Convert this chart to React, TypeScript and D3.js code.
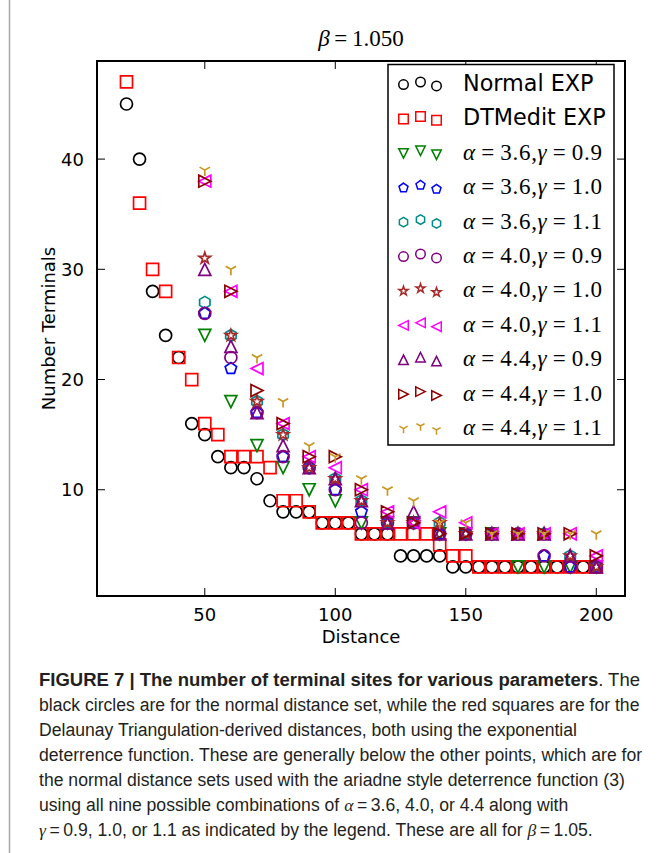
import React from 'react';
import * as d3 from 'd3';

// distances for the two EXP series (every 5)
const distFine = [20, 25, 30, 35, 40, 45, 50, 55, 60, 65, 70, 75, 80, 85, 90, 95, 100, 105, 110, 115, 120, 125, 130, 135, 140, 145, 150, 155, 160, 165, 170, 175, 180, 185, 190, 195, 200];
const normalExp = [45, 40, 28, 24, 22, 16, 15, 13, 12, 12, 11, 9, 8, 8, 8, 7, 7, 7, 6, 6, 6, 4, 4, 4, 4, 3, 3, 3, 3, 3, 3, 3, 3, 3, 3, 3, 3];
const dtmeditExp = [47, 36, 30, 28, 22, 20, 16, 15, 13, 13, 13, 12, 9, 9, 8, 7, 7, 7, 6, 6, 6, 6, 6, 6, 5, 4, 4, 3, 3, 3, 3, 3, 3, 3, 3, 3, 3];

// distances for the ariadne series (every 10)
const distCoarse = [50, 60, 70, 80, 90, 100, 110, 120, 130, 140, 150, 160, 170, 180, 190, 200];
const a36g09 = [24, 18, 14, 12, 10, 9, 7, 7, 7, 6, 6, 6, 3, 3, 3, 3];
const a36g10 = [26, 21, 17, 13, 12, 10, 8, 7, 7, 6, 6, 6, 6, 4, 3, 3];
const a36g11 = [27, 24, 18, 15, 12, 11, 9, 7, 7, 7, 6, 6, 6, 6, 4, 3];
const a40g09 = [26, 22, 17, 13, 12, 10, 7, 7, 7, 6, 6, 6, 6, 4, 3, 3];
const a40g10 = [31, 24, 18, 15, 12, 11, 9, 7, 7, 7, 6, 6, 6, 6, 4, 3];
const a40g11 = [38, 28, 21, 16, 13, 12, 10, 8, 7, 8, 7, 6, 6, 6, 6, 4];
const a44g09 = [30, 23, 17, 14, 12, 11, 9, 7, 8, 6, 6, 6, 6, 6, 4, 3];
const a44g10 = [38, 28, 19, 16, 13, 13, 10, 8, 7, 6, 6, 6, 6, 6, 6, 4];
const a44g11 = [39, 30, 22, 18, 14, 13, 11, 10, 9, 7, 7, 6, 6, 6, 6, 6];

const xTicks = [50, 100, 150, 200];
const yTicks = [10, 20, 30, 40];

const series = [
  { label: 'Normal EXP', x: distFine, y: normalExp, marker: 'circle', color: '#000000' },
  { label: 'DTMedit EXP', x: distFine, y: dtmeditExp, marker: 'square', color: '#ff0000' },
  { a: '3.6', g: '0.9', x: distCoarse, y: a36g09, marker: 'triDown', color: '#008000' },
  { a: '3.6', g: '1.0', x: distCoarse, y: a36g10, marker: 'pentagon', color: '#0000ff' },
  { a: '3.6', g: '1.1', x: distCoarse, y: a36g11, marker: 'hexagon', color: '#008b8b' },
  { a: '4.0', g: '0.9', x: distCoarse, y: a40g09, marker: 'circle', color: '#800080' },
  { a: '4.0', g: '1.0', x: distCoarse, y: a40g10, marker: 'star', color: '#a52a2a' },
  { a: '4.0', g: '1.1', x: distCoarse, y: a40g11, marker: 'triLeft', color: '#ff00ff' },
  { a: '4.4', g: '0.9', x: distCoarse, y: a44g09, marker: 'triUp', color: '#800080' },
  { a: '4.4', g: '1.0', x: distCoarse, y: a44g10, marker: 'triRight', color: '#8b0000' },
  { a: '4.4', g: '1.1', x: distCoarse, y: a44g11, marker: 'triY', color: '#c9961f' },
];

const captionLines = [
  'black circles are for the normal distance set, while the red squares are for the',
  'Delaunay Triangulation-derived distances, both using the exponential',
  'deterrence function. These are generally below the other points, which are for',
  'the normal distance sets used with the ariadne style deterrence function (3)',
];

function poly(pts: number[][]) {
  return 'M' + pts.map(p => p[0].toFixed(2) + ',' + p[1].toFixed(2)).join('L') + 'Z';
}

function markerPath(kind: string, size: number) {
  const h = size / 2;
  switch (kind) {
    case 'circle':
      return `M${h},0A${h},${h} 0 1 1 ${-h},0A${h},${h} 0 1 1 ${h},0Z`;
    case 'square':
      return poly([[-h, -h], [h, -h], [h, h], [-h, h]]);
    case 'triDown':
      return poly([[0, h], [-h, -h], [h, -h]]);
    case 'triUp':
      return poly([[0, -h], [-h, h], [h, h]]);
    case 'triLeft':
      return poly([[-h, 0], [h, -h], [h, h]]);
    case 'triRight':
      return poly([[h, 0], [-h, -h], [-h, h]]);
    case 'pentagon':
      return poly(d3.range(5).map(k => {
        const t = -Math.PI / 2 + k * 2 * Math.PI / 5;
        return [h * Math.cos(t), h * Math.sin(t)];
      }));
    case 'hexagon':
      return poly(d3.range(6).map(k => {
        const t = -Math.PI / 2 + k * Math.PI / 3;
        return [h * Math.cos(t), h * Math.sin(t)];
      }));
    case 'star':
      return poly(d3.range(10).map(k => {
        const t = -Math.PI / 2 + k * Math.PI / 5;
        const r = k % 2 ? h * 0.381966 : h;
        return [r * Math.cos(t), r * Math.sin(t)];
      }));
    case 'triY':
      return `M0,0L0,${h}M0,0L${-0.866 * h},${-0.5 * h}M0,0L${0.866 * h},${-0.5 * h}`;
    default:
      return '';
  }
}

const W = 659;
const H = 853;
const plot = { left: 97, right: 625, top: 61, bottom: 596 };
const sans = "'DejaVu Sans', sans-serif";
const serif = "'Liberation Serif', 'DejaVu Serif', serif";
const capFont = "'Liberation Sans', Arial, sans-serif";

function MathLabel({ a, g, x, y }: { a: string; g: string; x: number; y: number }) {
  return (
    <text x={x} y={y} fontFamily={serif} fontSize={23} dominantBaseline="central" textLength={139} lengthAdjust="spacing">
      <tspan fontStyle="italic">α</tspan>
      <tspan>{'\u2009=\u2009' + a + ','}</tspan>
      <tspan fontStyle="italic">γ</tspan>
      <tspan>{'\u2009=\u2009' + g}</tspan>
    </text>
  );
}

export default function App() {
  const x = d3.scaleLinear().domain([8.7, 211]).range([plot.left, plot.right]);
  const y = d3.scaleLinear().domain([0.36, 48.9]).range([plot.bottom, plot.top]);
  const size = 12;
  const legSize = 9.5;
  const legX = 388, legY = 64.5, legW = 226, legH = 380.5;
  const rowStep = 34.4;
  const capY = 686;
  const capStep = 25;
  const capSize = 17.6;

  return (
    <div style={{ position: 'absolute', left: 0, top: 0 }}>
      <svg width={W} height={H} style={{ display: 'block', background: '#fff' }}>
        <line x1={9.5} x2={9.5} y1={0} y2={H} stroke="#a8a8a8" strokeWidth={1.5} />

        {/* title */}
        <text x={(plot.left + plot.right) / 2} y={46} textAnchor="middle" fontFamily={serif} fontSize={23}>
          <tspan fontStyle="italic">β</tspan>
          <tspan>{'\u2009=\u20091.050'}</tspan>
        </text>

        {/* markers */}
        {series.map((s, i) => (
          <g key={i} fill="none" stroke={s.color} strokeWidth={1.7} strokeLinejoin="miter">
            {s.y.map((v, j) => (
              <path key={j} d={markerPath(s.marker, size)} transform={`translate(${x(s.x[j])},${y(v)})`} />
            ))}
          </g>
        ))}

        {/* frame and ticks */}
        <rect x={plot.left} y={plot.top} width={plot.right - plot.left} height={plot.bottom - plot.top} fill="none" stroke="#000" strokeWidth={2} />
        {xTicks.map(t => (
          <g key={'x' + t}>
            <line x1={x(t)} x2={x(t)} y1={plot.bottom} y2={plot.bottom - 8} stroke="#000" strokeWidth={1} />
            <line x1={x(t)} x2={x(t)} y1={plot.top} y2={plot.top + 8} stroke="#000" strokeWidth={1} />
            <text x={x(t)} y={plot.bottom + 25} textAnchor="middle" fontFamily={sans} fontSize={18}>{t}</text>
          </g>
        ))}
        {yTicks.map(t => (
          <g key={'y' + t}>
            <line x1={plot.left} x2={plot.left + 8} y1={y(t)} y2={y(t)} stroke="#000" strokeWidth={1} />
            <line x1={plot.right} x2={plot.right - 8} y1={y(t)} y2={y(t)} stroke="#000" strokeWidth={1} />
            <text x={plot.left - 13} y={y(t)} textAnchor="end" dominantBaseline="central" fontFamily={sans} fontSize={18}>{t}</text>
          </g>
        ))}
        <text x={(plot.left + plot.right) / 2} y={643} textAnchor="middle" fontFamily={sans} fontSize={18}>Distance</text>
        <text transform={`translate(55,${(plot.top + plot.bottom) / 2}) rotate(-90)`} textAnchor="middle" fontFamily={sans} fontSize={18}>Number Terminals</text>

        {/* legend */}
        <rect x={legX} y={legY} width={legW} height={legH} fill="#fff" stroke="#000" strokeWidth={1.5} />
        {series.map((s, i) => {
          const cy = 83 + i * rowStep;
          const offs = [[-17, 2.6], [0, 0], [16, 3.9]];
          return (
            <g key={'l' + i}>
              <g fill="none" stroke={s.color} strokeWidth={1.5}>
                {offs.map((o, k) => (
                  <path key={k} d={markerPath(s.marker, legSize)} transform={`translate(${420.5 + o[0]},${cy - 1 + o[1]})`} />
                ))}
              </g>
              {s.label ? (
                <text x={463} y={cy} dominantBaseline="central" fontFamily={sans} fontSize={22.3}>{s.label}</text>
              ) : (
                <MathLabel a={s.a as string} g={s.g as string} x={463} y={cy} />
              )}
            </g>
          );
        })}

        {/* caption */}
        <g fontFamily={capFont} fontSize={capSize} fill="#231f20">
          <text x={39} y={capY} textLength={601} lengthAdjust="spacingAndGlyphs">
            <tspan fontWeight="bold">FIGURE 7 | The number of terminal sites for various parameters</tspan>
            <tspan>. The</tspan>
          </text>
          {captionLines.map((l, i) => (
            <text key={i} x={39} y={capY + (i + 1) * capStep}>{l}</text>
          ))}
          <text x={39} y={capY + 5 * capStep}>
            <tspan>using all nine possible combinations of </tspan>
            <tspan fontFamily={serif} fontStyle="italic">α</tspan>
            <tspan>{'\u2009=\u20093.6, 4.0, or 4.4 along with'}</tspan>
          </text>
          <text x={39} y={capY + 6 * capStep}>
            <tspan fontFamily={serif} fontStyle="italic">γ</tspan>
            <tspan>{'\u2009=\u20090.9, 1.0, or 1.1 as indicated by the legend. These are all for '}</tspan>
            <tspan fontFamily={serif} fontStyle="italic">β</tspan>
            <tspan>{'\u2009=\u20091.05.'}</tspan>
          </text>
        </g>
      </svg>
    </div>
  );
}
